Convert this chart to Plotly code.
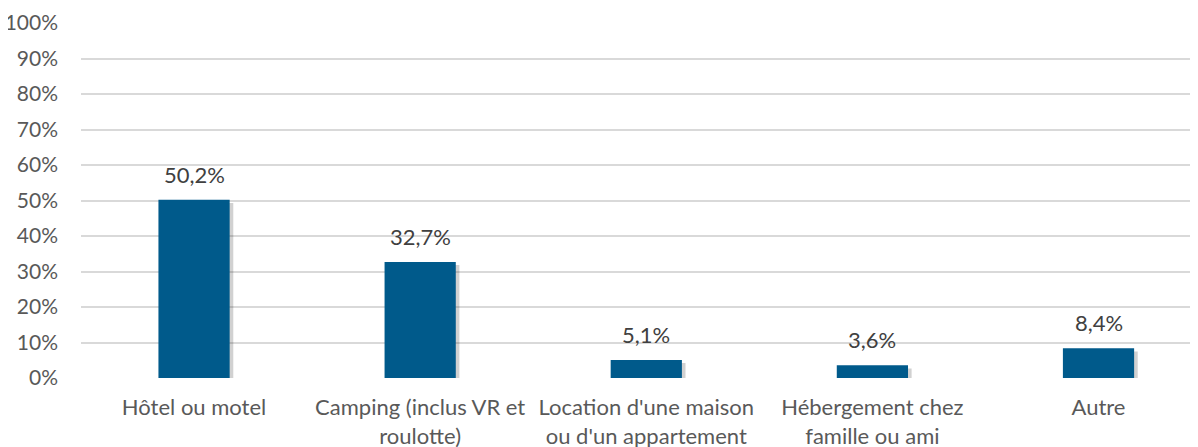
import plotly.graph_objects as go

categories = ["Hôtel ou motel", "Camping (inclus VR et<br>roulotte)",
              "Location d'une maison<br>ou d'un appartement",
              "Hébergement chez<br>famille ou ami", "Autre"]
values = [50.2, 32.7, 5.1, 3.6, 8.4]
labels = [f"{v:.1f}".replace(".", ",") + "%" for v in values]
tick_vals = list(range(0, 101, 10))

FONT = "Lato"
xs = list(range(len(categories)))
BAR_W = 0.315

fig = go.Figure()
# soft drop shadow behind the bars
fig.add_trace(go.Bar(
    x=xs, y=[v - 0.3 for v in values], base=-0.6,
    width=BAR_W, offset=-BAR_W / 2 + 0.016,
    marker=dict(color="rgba(0,0,0,0.18)", line=dict(width=0)),
    hoverinfo="skip",
))
fig.add_trace(go.Bar(
    x=xs, y=values,
    width=BAR_W, offset=-BAR_W / 2,
    marker=dict(color="#005a8b", line=dict(width=0)),
))
for x, v, t in zip(xs, values, labels):
    fig.add_annotation(x=x, y=v, text=t, showarrow=False, yanchor="bottom",
                       yshift=10, font=dict(family=FONT, size=22, color="#404040"))

fig.update_layout(
    width=1190, height=439,
    margin=dict(l=73, r=0, t=15, b=69),
    plot_bgcolor="white", paper_bgcolor="white",
    showlegend=False, barmode="overlay",
    font=dict(family=FONT, size=22, color="#595959"),
)
fig.update_xaxes(
    range=[-0.5, 4.44], tickmode="array",
    tickvals=xs, ticktext=categories,
    showgrid=False, zeroline=False, showline=False, ticks="",
    tickfont=dict(size=22, color="#595959"), automargin=False,
    ticklabelstandoff=14,
)
fig.update_yaxes(
    range=[0, 100], tickvals=tick_vals,
    ticktext=[f"{t}%" for t in tick_vals],
    showgrid=True, gridcolor="#d9d9d9", gridwidth=1.5,
    zeroline=False, showline=False, ticks="",
    tickfont=dict(size=21, color="#595959"), automargin=False,
    ticklabelstandoff=22,
)
fig.write_html("out.html")
